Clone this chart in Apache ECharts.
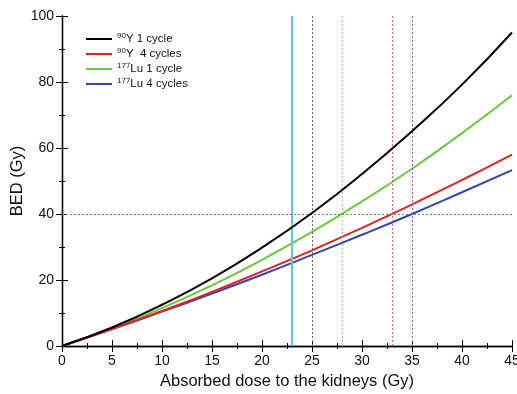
<!DOCTYPE html>
<html><head><meta charset="utf-8">
<script src="https://cdn.jsdelivr.net/npm/echarts@6/dist/echarts.min.js"></script>
<style>html,body{margin:0;padding:0;background:#fff}#c{width:517px;height:394px}</style>
</head><body><div id="c"></div>
<script>
const dose = [0, 5, 10, 15, 20, 25, 30, 35, 40, 45];
const y90_1 = [0, 5.6, 12.5, 20.5, 29.8, 40.3, 52.1, 65.1, 79.2, 95.0];
const y90_4 = [0, 5.16, 10.6, 16.4, 22.6, 29.0, 35.8, 42.9, 50.3, 58.0];
const lu177_1 = [0, 5.4, 11.5, 18.4, 26.1, 34.6, 43.8, 53.7, 64.5, 76.0];
const lu177_4 = [0, 5.1, 10.4, 15.9, 21.6, 27.6, 33.7, 40.0, 46.6, 53.3];
const seriesNames = ['90Y 1 cycle', '90Y  4 cycles', '177Lu 1 cycle', '177Lu 4 cycles'];
const limitDose = 23;
const crossDoses = [25, 28, 33, 35];
const bedLimit = 40;
const xTicks = [0, 5, 10, 15, 20, 25, 30, 35, 40, 45];
const yTicks = [0, 20, 40, 60, 80, 100];

const colors = ['#000000', '#e42222', '#6cc83a', '#3444b4'];
const crossColors = ['#666666', '#8fd46a', '#e86060', '#6070d0'];
const font = 'Liberation Sans, Arial, sans-serif';
const vals = [y90_1, y90_4, lu177_1, lu177_4];

function pair(a){ return dose.map((d,i)=>[d,a[i]]); }

const series = vals.map((v,i)=>({
  name: seriesNames[i], type:'line', data: pair(v), smooth:true, showSymbol:false,
  lineStyle:{color:colors[i], width:2}, itemStyle:{color:colors[i]}, z: 5 - i, animation:false
}));
series.push({
  name:'refs', type:'line', data:[], animation:false,
  markLine:{ silent:true, symbol:'none', label:{show:false}, animation:false,
    data: [
      {xAxis: limitDose, lineStyle:{color:'#5cc8e0', width:2, type:'solid'}},
      ...crossDoses.map((d,i)=>({xAxis:d, lineStyle:{color:crossColors[i], width:1, type:[2,2]}})),
      {yAxis: bedLimit, lineStyle:{color:'#777777', width:1, type:[2,2]}}
    ]}
});

const chart = echarts.init(document.getElementById('c'), null, {renderer:'canvas'});
const axisLine = {lineStyle:{color:'#000', width:1.3}};
chart.setOption({
  animation:false,
  grid:{left:62, right:5, top:16, bottom:48, containLabel:false, outerBoundsMode:'none'},
  legend:{
    left:81, top:27, orient:'vertical', itemWidth:26, itemHeight:2, itemGap:2,
    data: seriesNames.slice(),
    icon:'rect',
    formatter: n => { const m = n.match(/^(\d+)(.*)$/); return '{s|'+m[1]+'}{t|'+m[2]+'}'; },
    textStyle:{ rich:{ s:{fontSize:8, fontFamily:font, color:'#111', verticalAlign:'top', lineHeight:14, padding:[0,0,4,0]}, t:{fontSize:11.5, fontFamily:font, color:'#111', lineHeight:14} } }
  },
  xAxis:[{
    type:'value', min:0, max:45, interval:5, position:'bottom',
    name:'Absorbed dose to the kidneys (Gy)', nameLocation:'middle', nameGap:27, nameMoveOverlap:false,
    nameTextStyle:{fontSize:16.5, fontFamily:font, color:'#111'},
    axisLine:axisLine, axisTick:{inside:true, length:6, lineStyle:{color:'#000'}},
    minorTick:{show:true, splitNumber:2, length:3, lineStyle:{color:'#000'}},
    axisLabel:{fontSize:14, fontFamily:font, color:'#111', margin:8, showMaxLabel:true},
    splitLine:{show:false}
  },{
    type:'value', min:0, max:45, interval:5, position:'top',
    axisLine:axisLine, axisTick:{inside:true, length:6, lineStyle:{color:'#000'}},
    minorTick:{show:true, splitNumber:2, length:3, lineStyle:{color:'#000'}},
    axisLabel:{show:false}, splitLine:{show:false}
  }],
  yAxis:[{
    type:'value', min:0, max:100, interval:20, position:'left',
    name:'BED (Gy)', nameLocation:'middle', nameGap:36, nameRotate:90, nameMoveOverlap:false,
    nameTextStyle:{fontSize:16.5, fontFamily:font, color:'#111'},
    axisLine:axisLine, axisTick:{inside:true, length:6, lineStyle:{color:'#000'}},
    minorTick:{show:true, splitNumber:2, length:3, lineStyle:{color:'#000'}},
    axisLabel:{fontSize:14, fontFamily:font, color:'#111', margin:8},
    splitLine:{show:false}
  },{
    type:'value', min:0, max:100, interval:20, position:'right',
    axisLine:axisLine, axisTick:{inside:true, length:6, lineStyle:{color:'#000'}},
    minorTick:{show:true, splitNumber:2, length:3, lineStyle:{color:'#000'}},
    axisLabel:{show:false}, splitLine:{show:false}
  }],
  series: series
});
</script></body></html>
